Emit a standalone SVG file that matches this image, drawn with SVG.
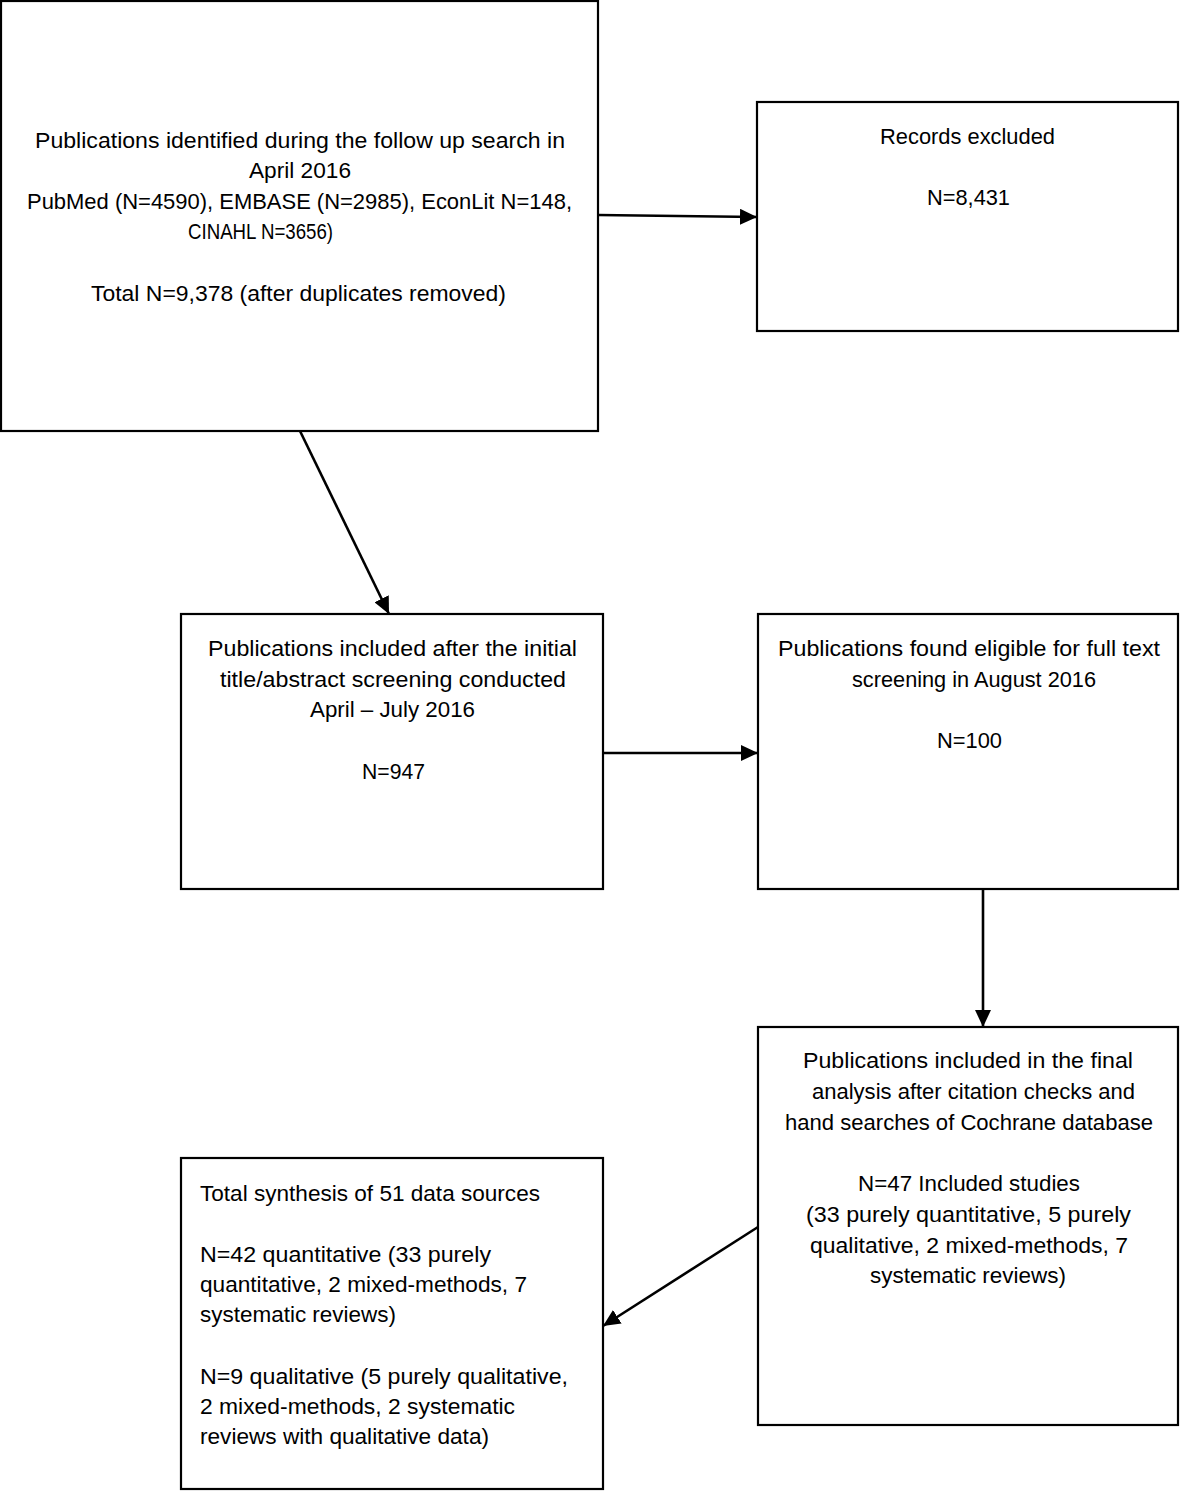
<svg xmlns="http://www.w3.org/2000/svg" width="1181" height="1491" viewBox="0 0 1181 1491">
<style>
.box{fill:#fff;stroke:#000;stroke-width:2.2}
text{font-family:"Liberation Sans",Arial,sans-serif;font-size:21.5px;fill:#000}
.c{text-anchor:middle}
.conn{stroke:#000;stroke-width:2.6;fill:none;marker-end:url(#ah)}
</style>
<defs>
<marker id="ah" markerUnits="userSpaceOnUse" markerWidth="18" markerHeight="16" refX="17" refY="8" orient="auto">
<path d="M0,0 L17,8 L0,16 Z" fill="#000"/>
</marker>
</defs>
<rect width="1181" height="1491" fill="#fff"/>
<g id="connectors">
<line class="conn" x1="598" y1="215" x2="757" y2="217"/>
<line class="conn" x1="300" y1="431" x2="389" y2="614"/>
<line class="conn" x1="603" y1="753" x2="758" y2="753"/>
<line class="conn" x1="983" y1="889" x2="983" y2="1027"/>
<line class="conn" x1="758" y1="1227" x2="603" y2="1326"/>
</g>
<g id="n1">
<rect class="box" x="1" y="1" width="597" height="430"/>
<text class="c" x="300" y="148" textLength="530" lengthAdjust="spacingAndGlyphs">Publications identified during the follow up search in</text>
<text class="c" x="300" y="178" textLength="102" lengthAdjust="spacingAndGlyphs">April 2016</text>
<text class="c" x="299.5" y="209" textLength="545" lengthAdjust="spacingAndGlyphs">PubMed (N=4590), EMBASE (N=2985), EconLit N=148,</text>
<text class="c" x="260.5" y="239" textLength="145" lengthAdjust="spacingAndGlyphs">CINAHL N=3656)</text>
<text class="c" x="298.5" y="301" textLength="415" lengthAdjust="spacingAndGlyphs">Total N=9,378 (after duplicates removed)</text>
</g>
<g id="n2">
<rect class="box" x="757" y="102" width="421" height="229"/>
<text class="c" x="967.5" y="144" textLength="175" lengthAdjust="spacingAndGlyphs">Records excluded</text>
<text class="c" x="968.5" y="205" textLength="83" lengthAdjust="spacingAndGlyphs">N=8,431</text>
</g>
<g id="n3">
<rect class="box" x="181" y="614" width="422" height="275"/>
<text class="c" x="392.5" y="656" textLength="369" lengthAdjust="spacingAndGlyphs">Publications included after the initial</text>
<text class="c" x="393" y="687" textLength="346" lengthAdjust="spacingAndGlyphs">title/abstract screening conducted</text>
<text class="c" x="392.5" y="717" textLength="165" lengthAdjust="spacingAndGlyphs">April – July 2016</text>
<text class="c" x="393.5" y="779" textLength="63" lengthAdjust="spacingAndGlyphs">N=947</text>
</g>
<g id="n4">
<rect class="box" x="758" y="614" width="420" height="275"/>
<text class="c" x="969" y="656" textLength="382" lengthAdjust="spacingAndGlyphs">Publications found eligible for full text</text>
<text class="c" x="974" y="687" textLength="244" lengthAdjust="spacingAndGlyphs">screening in August 2016</text>
<text class="c" x="969.5" y="748" textLength="65" lengthAdjust="spacingAndGlyphs">N=100</text>
</g>
<g id="n5">
<rect class="box" x="758" y="1027" width="420" height="398"/>
<text class="c" x="968" y="1068" textLength="330" lengthAdjust="spacingAndGlyphs">Publications included in the final</text>
<text class="c" x="973.5" y="1099" textLength="323" lengthAdjust="spacingAndGlyphs">analysis after citation checks and</text>
<text class="c" x="969" y="1130" textLength="368" lengthAdjust="spacingAndGlyphs">hand searches of Cochrane database</text>
<text class="c" x="969" y="1191" textLength="222" lengthAdjust="spacingAndGlyphs">N=47 Included studies</text>
<text class="c" x="968.5" y="1222" textLength="325" lengthAdjust="spacingAndGlyphs">(33 purely quantitative, 5 purely</text>
<text class="c" x="969" y="1253" textLength="318" lengthAdjust="spacingAndGlyphs">qualitative, 2 mixed-methods, 7</text>
<text class="c" x="968" y="1283" textLength="196" lengthAdjust="spacingAndGlyphs">systematic reviews)</text>
</g>
<g id="n6">
<rect class="box" x="181" y="1158" width="422" height="331"/>
<text x="200" y="1201" textLength="340" lengthAdjust="spacingAndGlyphs">Total synthesis of 51 data sources</text>
<text x="200" y="1262" textLength="291" lengthAdjust="spacingAndGlyphs">N=42 quantitative (33 purely</text>
<text x="200" y="1292" textLength="327" lengthAdjust="spacingAndGlyphs">quantitative, 2 mixed-methods, 7</text>
<text x="200" y="1322" textLength="196" lengthAdjust="spacingAndGlyphs">systematic reviews)</text>
<text x="200" y="1384" textLength="368" lengthAdjust="spacingAndGlyphs">N=9 qualitative (5 purely qualitative,</text>
<text x="200" y="1414" textLength="315" lengthAdjust="spacingAndGlyphs">2 mixed-methods, 2 systematic</text>
<text x="200" y="1444" textLength="289" lengthAdjust="spacingAndGlyphs">reviews with qualitative data)</text>
</g>
</svg>
